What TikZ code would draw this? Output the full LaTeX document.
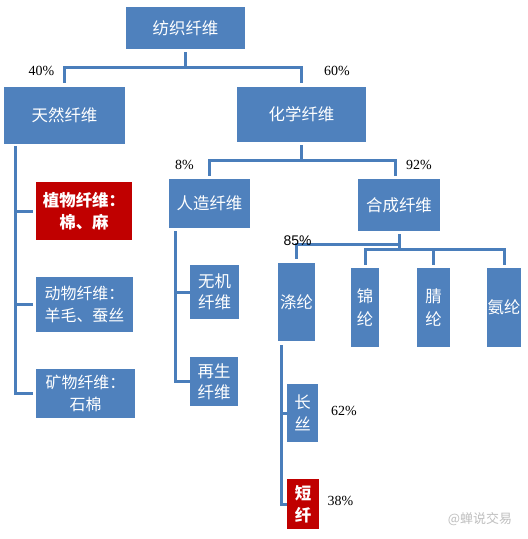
\documentclass[tikz,border=0pt]{standalone}
\usepackage{fontspec}
\setmainfont{Liberation Serif}
\newfontfamily\cjk{Noto Sans CJK SC}
\newfontfamily\arialf{Liberation Sans}
\definecolor{boxblue}{HTML}{4F81BD}
\definecolor{boxred}{HTML}{C00000}
\definecolor{linec}{HTML}{4A7EBB}
\begin{document}
\begin{tikzpicture}[x=1bp,y=-1bp,
  box/.style={fill=boxblue, draw=none, text=white, inner sep=0pt, align=center,
    font=\cjk\fontsize{16.5}{20}\selectfont},
  redbox/.style={box, fill=boxred},
  conn/.style={draw=linec, line width=3bp},
  pct/.style={font=\fontsize{14}{16}\selectfont, text=black, inner sep=0pt}]
\useasboundingbox[fill=white] (0,0) rectangle (528,539);
% boxes
\node[box, minimum width=119bp, minimum height=42bp] (top) at (185.5,28) {纺织纤维};
\node[box, minimum width=121bp, minimum height=57bp] (tr) at (64.5,115.5) {天然纤维};
\node[box, minimum width=129bp, minimum height=55bp] (hx) at (301.5,114.5) {化学纤维};
\node[redbox, minimum width=96bp, minimum height=58bp, font=\cjk\bfseries\fontsize{16.5}{22}\selectfont] (zw) at (84,211) {植物纤维：\\棉、麻};
\node[box, minimum width=97bp, minimum height=55bp, font=\cjk\fontsize{16}{22}\selectfont] (dw) at (84.5,304.5) {动物纤维：\\羊毛、蚕丝};
\node[box, minimum width=99bp, minimum height=49bp, font=\cjk\fontsize{16}{22}\selectfont] (kw) at (85.5,393.5) {矿物纤维：\\石棉};
\node[box, minimum width=81bp, minimum height=49bp] (rz) at (209.5,203.5) {人造纤维};
\node[box, minimum width=49bp, minimum height=54bp, font=\cjk\fontsize{16.5}{21}\selectfont] (wj) at (214.5,292) {无机\\纤维};
\node[box, minimum width=48bp, minimum height=49bp, font=\cjk\fontsize{16.5}{21}\selectfont] (zs) at (214,381.5) {再生\\纤维};
\node[box, minimum width=82bp, minimum height=52bp] (hc) at (399,205) {合成纤维};
\node[box, minimum width=37bp, minimum height=78bp] (dl) at (296.5,302) {涤纶};
\node[box, minimum width=28bp, minimum height=79bp, font=\cjk\fontsize{16.5}{22.5}\selectfont] (jl) at (365,307.5) {锦\\纶};
\node[box, minimum width=33bp, minimum height=79bp, font=\cjk\fontsize{16.5}{22.5}\selectfont] (ql) at (433.5,307.5) {腈\\纶};
\node[box, minimum width=34bp, minimum height=79bp] (al) at (504,307.5) {氨纶};
\node[box, minimum width=31bp, minimum height=58bp, font=\cjk\fontsize{16.5}{22}\selectfont] (cs) at (302.5,413) {长\\丝};
\node[redbox, minimum width=32bp, minimum height=50bp, font=\cjk\bfseries\fontsize{16.5}{22}\selectfont] (dx) at (303,504) {短\\纤};
% connectors
\draw[conn] ([yshift=-3bp]top.south) -- (top.south |- 0,68) -| ([yshift=4bp]tr.north);
\draw[conn] (top.south |- 0,68) -| ([yshift=4bp]hx.north);
\draw[conn] ([yshift=-3bp]hx.south) -- (hx.south |- 0,161) -| ([yshift=3bp]rz.north);
\draw[conn] (hx.south |- 0,161) -| ([xshift=-4bp,yshift=3bp]hc.north);
% natural fibre trunk
\coordinate (ttop) at (15,146);
\draw[conn] (ttop) |- ([xshift=-3bp]kw.west);
\draw[conn] (ttop |- zw.west) -- ([xshift=-3bp]zw.west);
\draw[conn] (ttop |- dw.west) -- ([xshift=-3bp]dw.west);
% man-made trunk
\coordinate (rtop) at (175,231);
\draw[conn] (rtop) |- (zs.west);
\draw[conn] (rtop |- wj.west) -- (wj.west);
% synthetic
\draw[conn] ([yshift=-3bp]hc.south) -- (hc.south |- 0,249);
\draw[conn] (hc.south |- 0,244) -| ([yshift=4bp]dl.north);
\draw[conn] ([yshift=3bp]jl.north) |- (al.north |- 0,249) -- ([yshift=3bp]al.north);
\draw[conn] (ql.north |- 0,249) -- ([yshift=3bp]ql.north);
% polyester trunk
\coordinate (dtop) at (281,345);
\draw[conn] (dtop) |- (dx.west);
\draw[conn] (dtop |- cs.west) -- (cs.west);
% percentages
\node[pct] (p40) at (41.5,71) {40\%};
\node[pct] (p60) at (337,71) {60\%};
\node[pct] (p8) at (184.5,165) {8\%};
\node[pct] (p92) at (419,165) {92\%};
\node[pct, font=\arialf\fontsize{14}{16}\selectfont] (p85) at (297.5,241) {85\%};
\node[pct] (p62) at (344,411) {62\%};
\node[pct] (p38) at (340.5,501) {38\%};
% watermark
\node[text=black!25, font=\cjk\fontsize{13}{15}\selectfont, inner sep=0pt] (wm) at (480,519) {@蝉说交易};
\end{tikzpicture}
\end{document}
